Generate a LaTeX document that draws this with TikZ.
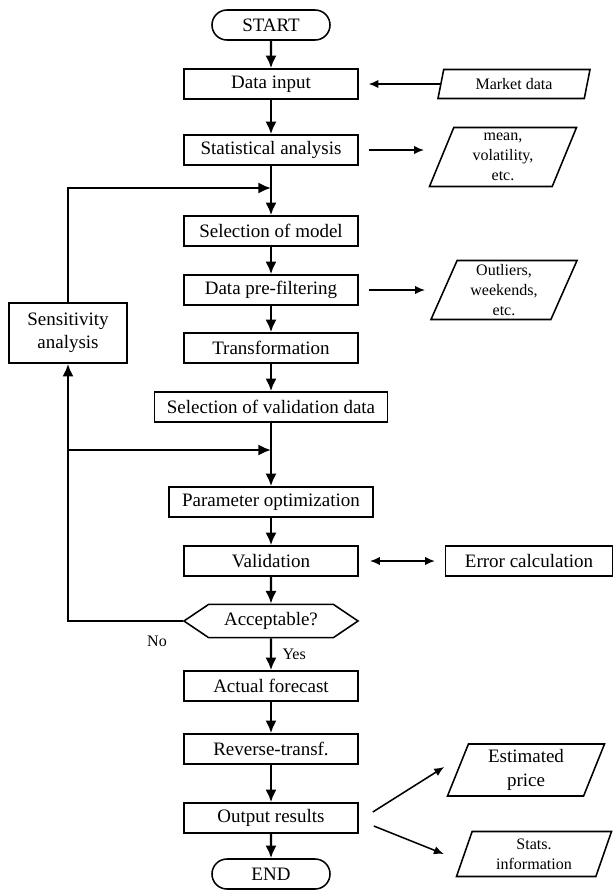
\documentclass[tikz,border=0pt]{standalone}
\usepackage{fontspec}
\setmainfont{Liberation Serif}
\usetikzlibrary{shapes.geometric,shapes.misc,shapes.symbols,arrows.meta}

\begin{document}
\begin{tikzpicture}[x=0.025cm, y=-0.025cm, font=\fontsize{13.5pt}{17pt}\selectfont]
    % Define styles
    \tikzstyle{terminal} = [rounded rectangle, draw, line width=1.1pt, minimum width=2.95cm, minimum height=0.75cm, inner sep=0pt]
    \tikzstyle{process} = [rectangle, draw, line width=1.1pt, minimum width=4.35cm, minimum height=0.75cm, inner sep=0pt, align=center]
    \tikzstyle{io} = [trapezium, trapezium left angle=63, trapezium right angle=117, trapezium stretches body, draw, line width=1.1pt, inner sep=0pt, align=center]
    \tikzstyle{decision} = [signal, signal to=west and east, signal pointer angle=68, draw, line width=1.1pt, minimum width=4.35cm, minimum height=0.83cm, inner sep=0pt]
    \tikzstyle{arrow} = [line width=1.7pt, ->, >={Latex[length=9pt,width=8pt]}]
    \tikzstyle{side} = [line width=1.1pt, ->, >={Latex[length=7pt,width=6pt]}]
    \tikzstyle{small} = [font=\fontsize{11.4pt}{14.2pt}\selectfont]

    \useasboundingbox (0,0) rectangle (614,890);

    % Main column
    \node [terminal] (start) at (271,25) {START};
    \node [process] (input) at (271,84) {Data input};
    \node [process] (stats) at (271,150) {Statistical analysis};
    \node [process] (model) at (271,231) {Selection of model};
    \node [process] (filter) at (271,290) {Data pre-filtering};
    \node [process] (trans) at (271,348) {Transformation};
    \node [process, minimum width=5.825cm] (valsel) at (271,407) {Selection of validation data};
    \node [process, minimum width=5.1cm] (param) at (271,502) {Parameter optimization};
    \node [process] (valid) at (271,561) {Validation};
    \node [decision] (accept) at (271,621) {Acceptable?};
    \node [process] (forecast) at (271,686) {Actual forecast};
    \node [process] (reverse) at (271,749) {Reverse-transf.};
    \node [process] (output) at (271,818) {Output results};
    \node [terminal] (finish) at (271,874) {END};

    % Side data
    \node [io, small, minimum width=3.8cm, minimum height=0.725cm] (market) at (514,84) {Market data};
    \node [io, small, minimum width=3.675cm, minimum height=1.475cm] (moments) at (503,157) {mean,\\volatility,\\etc.};
    \node [io, small, minimum width=3.65cm, minimum height=1.475cm] (outliers) at (504,290) {Outliers,\\weekends,\\etc.};
    \node [process, minimum width=4.175cm] (error) at (529,561) {Error calculation};
    \node [io, minimum width=3.925cm, minimum height=1.3cm] (price) at (526,770) {Estimated\\price};
    \node [io, small, minimum width=3.875cm, minimum height=1.125cm] (info) at (534,854) {Stats.\\information};
    \node [process, minimum width=2.95cm, minimum height=1.5cm, font=\fontsize{13.5pt}{16.4pt}\selectfont] (sens) at (68,333) {Sensitivity\\analysis};

    % Junction points
    \coordinate (join1) at (271,188);
    \coordinate (join2) at (271,450);
    \coordinate (branch) at (68,450);

    % Main flow
    \draw [arrow] (start) -- (input);
    \draw [arrow] (input) -- (stats);
    \draw [arrow] (stats) -- (model);
    \draw [arrow] (model) -- (filter);
    \draw [arrow] (filter) -- (trans);
    \draw [arrow] (trans) -- (valsel);
    \draw [arrow] (valsel) -- (param);
    \draw [arrow] (param) -- (valid);
    \draw [arrow] (valid) -- (accept);
    \draw [arrow] (accept) -- node [small, right, xshift=4pt] {Yes} (forecast);
    \draw [arrow] (forecast) -- (reverse);
    \draw [arrow] (reverse) -- (output);
    \draw [arrow] (output) -- (finish);

    % Loops
    \draw [arrow] (accept.west) -| (sens.south);
    \draw [arrow] (sens.north) |- (join1);
    \draw [arrow] (branch) -- (join2);
    \node [small] (no) at (157,641) {No};

    % Side connections
    \draw [side] (market.west) -- ([xshift=7]input.east);
    \draw [side] ([xshift=7]stats.east) -- ([xshift=-12]stats.east -| moments.west);
    \draw [side] ([xshift=7]filter.east) -- ([xshift=-13]filter.east -| outliers.west);
    \draw [side, <->] ([xshift=8]valid.east) -- ([xshift=-7]error.west);
    \draw [side] ([shift={(14,-6)}]output.east) -- ([shift={(-13,-3)}]price.west);
    \draw [side] ([shift={(15,8)}]output.east) -- ([xshift=-14]info.west);
\end{tikzpicture}
\end{document}
